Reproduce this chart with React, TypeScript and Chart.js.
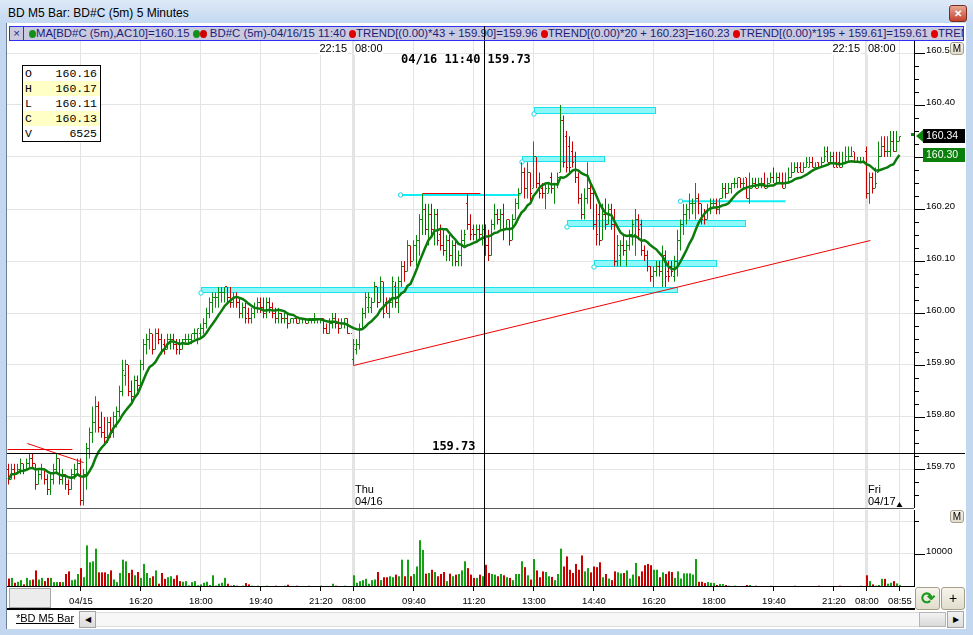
import { useEffect, useRef } from "react";
import { Chart, registerables } from "chart.js";

Chart.register(...registerables);
Chart.defaults.font.family = '"Liberation Sans", Arial, sans-serif';

// quotes are kept in hundredths above 159.00 (72 -> 159.72, 134 -> 160.34)
const BASE = 159;

// 5-minute bars: 04/15 12:40-22:10, 04/16 08:00-22:10, 04/17 08:00-08:55
const opens = [
  70, 68, 70, 69, 70, 71, 70, 71, 72, 71,
  67, 69, 70, 68, 66, 68, 70, 72, 68, 69,
  67, 66, 69, 70, 71, 64, 69, 74, 77, 79,
  82, 78, 77, 76, 79, 77, 80, 81, 85, 88,
  90, 85, 84, 87, 86, 90, 94, 95, 96, 93,
  96, 95, 94, 93, 95, 95, 94, 94, 93, 95,
  95, 95, 96, 96, 96, 97, 98, 100, 102, 103,
  103, 104, 104, 105, 103, 102, 103, 102, 100, 101,
  100, 99, 100, 101, 102, 101, 100, 102, 101, 100,
  99, 100, 99, 99, 98, 99, 99, 98, 99, 99,
  98, 99, 99, 99, 99, 99, 97, 96, 98, 99,
  98, 97, 98, 99, 96,
  // 04/16
  91, 93, 94, 97, 100, 101, 101, 102, 105, 102,
  106, 102, 100, 102, 105, 102, 106, 109, 108, 113,
  110, 113, 114, 118, 120, 116, 119, 116, 119, 115,
  113, 112, 114, 111, 113, 110, 111, 114, 121, 117,
  116, 115, 116, 115, 116, 113, 111, 117, 119, 118,
  119, 116, 118, 114, 118, 121, 123, 127, 124, 127,
  124, 130, 125, 124, 123, 123, 126, 124, 125, 127,
  137, 134, 132, 131, 130, 126, 122, 119, 122, 124,
  123, 117, 119, 114, 119, 117, 120, 117, 110, 111,
  113, 112, 113, 115, 115, 118, 117, 112, 111, 109,
  107, 108, 109, 108, 111, 108, 109, 107, 110, 114,
  117, 119, 120, 121, 121, 122, 121, 119, 118, 120,
  121, 121, 120, 122, 124, 123, 124, 125, 125, 126,
  125, 126, 122, 124, 125, 124, 125, 125, 124, 125,
  126, 125, 126, 125, 124, 125, 126, 127, 128, 128,
  127, 128, 128, 129, 128, 129, 128, 129, 131, 129,
  130, 129, 129, 128, 129, 129, 130, 131, 129, 129, 129,
  // 04/17
  131, 123, 126, 124, 127, 130, 132, 131, 131, 133, 131, 133,
];
const highs = [
  71, 71, 71, 71, 72, 71, 72, 73, 73, 71,
  70, 71, 70, 69, 69, 71, 73, 72, 70, 69,
  68, 70, 71, 72, 72, 70, 75, 78, 82, 84,
  83, 81, 80, 80, 80, 81, 82, 86, 91, 91,
  90, 87, 88, 88, 91, 95, 96, 97, 96, 97,
  97, 96, 95, 96, 96, 96, 95, 95, 95, 96,
  96, 96, 97, 97, 98, 99, 101, 103, 104, 104,
  105, 105, 105, 105, 105, 104, 104, 103, 102, 102,
  101, 101, 102, 103, 103, 103, 103, 103, 102, 101,
  101, 100, 100, 100, 99, 99, 99, 99, 99, 99,
  99, 99, 100, 99, 99, 99, 98, 99, 100, 100,
  99, 99, 99, 99, 96,
  // 04/16
  95, 95, 98, 101, 104, 104, 103, 106, 105, 107,
  106, 103, 103, 107, 106, 107, 110, 110, 114, 113,
  114, 115, 119, 123, 121, 121, 121, 120, 120, 117,
  116, 115, 115, 114, 114, 112, 116, 116, 123, 119,
  117, 117, 117, 117, 117, 116, 118, 121, 120, 120,
  121, 118, 118, 119, 122, 124, 129, 128, 129, 127,
  133, 130, 127, 125, 125, 125, 127, 125, 127, 140,
  138, 135, 134, 133, 131, 127, 123, 124, 129, 125,
  124, 121, 121, 121, 122, 121, 121, 120, 115, 114,
  115, 114, 116, 118, 120, 119, 118, 113, 112, 109,
  109, 110, 110, 113, 112, 110, 110, 111, 116, 118,
  121, 121, 123, 122, 125, 123, 121, 120, 121, 122,
  122, 122, 122, 125, 125, 125, 125, 126, 126, 126,
  126, 126, 127, 126, 126, 126, 126, 127, 126, 127,
  128, 127, 127, 127, 127, 128, 129, 129, 129, 129,
  129, 130, 130, 130, 129, 129, 130, 132, 132, 131,
  131, 131, 131, 131, 132, 132, 132, 131, 130, 130, 130,
  // 04/17
  132, 127, 127, 128, 133, 134, 134, 134, 135, 135, 135, 134,
];
const lows = [
  67, 68, 68, 69, 69, 69, 70, 70, 70, 66,
  67, 68, 67, 65, 65, 67, 69, 67, 67, 66,
  65, 66, 68, 69, 63, 63, 66, 72, 75, 77,
  77, 76, 75, 75, 76, 76, 78, 80, 84, 86,
  84, 83, 84, 85, 86, 89, 92, 93, 92, 93,
  94, 92, 92, 93, 93, 93, 92, 92, 93, 94,
  94, 94, 95, 94, 95, 96, 97, 99, 100, 101,
  101, 102, 102, 102, 101, 101, 101, 99, 99, 98,
  98, 98, 99, 100, 100, 99, 99, 100, 99, 98,
  98, 98, 98, 97, 98, 98, 98, 98, 98, 98,
  98, 98, 98, 98, 98, 96, 96, 96, 97, 97,
  96, 97, 97, 96, 96,
  // 04/16
  90, 92, 93, 97, 99, 100, 100, 102, 101, 102,
  99, 100, 99, 101, 101, 100, 105, 106, 108, 109,
  110, 109, 111, 115, 115, 113, 115, 113, 113, 112,
  111, 110, 110, 109, 109, 109, 109, 113, 116, 114,
  114, 114, 114, 113, 111, 110, 111, 116, 117, 116,
  114, 116, 113, 114, 118, 120, 123, 122, 122, 121,
  124, 124, 122, 122, 120, 123, 123, 121, 124, 127,
  128, 127, 127, 128, 125, 121, 118, 118, 121, 120,
  116, 113, 113, 114, 116, 117, 116, 109, 109, 109,
  111, 109, 112, 113, 111, 114, 111, 110, 108, 106,
  105, 107, 107, 105, 105, 106, 107, 106, 107, 112,
  115, 117, 118, 119, 118, 119, 117, 117, 118, 119,
  120, 119, 119, 122, 122, 123, 123, 124, 124, 124,
  124, 122, 121, 124, 124, 124, 124, 124, 124, 125,
  125, 125, 125, 124, 124, 125, 126, 127, 127, 127,
  127, 128, 128, 128, 128, 128, 128, 129, 129, 129,
  128, 128, 128, 128, 129, 129, 130, 129, 129, 129, 129,
  // 04/17
  122, 121, 123, 124, 127, 130, 130, 130, 130, 131, 131, 133,
];
const closes = [
  68, 70, 69, 70, 71, 70, 71, 72, 71, 67,
  69, 70, 68, 66, 68, 70, 72, 68, 69, 67,
  66, 69, 70, 71, 64, 69, 74, 77, 79, 82,
  78, 77, 76, 79, 77, 80, 81, 85, 89, 90,
  85, 84, 87, 86, 90, 94, 95, 96, 93, 96,
  95, 93, 93, 95, 95, 94, 93, 93, 95, 95,
  95, 96, 96, 97, 97, 98, 100, 102, 103, 103,
  104, 104, 105, 103, 102, 103, 102, 100, 101, 99,
  99, 100, 101, 102, 101, 100, 102, 101, 100, 99,
  100, 99, 99, 98, 99, 99, 98, 99, 99, 98,
  99, 99, 99, 99, 99, 97, 96, 98, 99, 98,
  97, 98, 99, 96, 96,
  // 04/16
  94, 94, 97, 100, 103, 103, 102, 105, 102, 106,
  100, 100, 102, 106, 102, 106, 109, 108, 113, 110,
  113, 114, 118, 120, 116, 119, 116, 119, 114, 113,
  112, 114, 111, 113, 110, 111, 114, 115, 117, 115,
  115, 116, 115, 116, 113, 111, 117, 119, 118, 119,
  116, 118, 114, 118, 121, 123, 127, 124, 127, 123,
  130, 125, 123, 123, 124, 124, 124, 125, 126, 137,
  129, 128, 128, 129, 126, 122, 119, 122, 124, 123,
  117, 115, 114, 119, 117, 120, 117, 110, 113, 113,
  112, 113, 115, 117, 118, 116, 112, 111, 109, 107,
  108, 109, 108, 111, 107, 107, 108, 110, 114, 117,
  119, 120, 121, 121, 122, 121, 118, 118, 120, 121,
  121, 120, 122, 124, 123, 124, 125, 125, 126, 125,
  125, 122, 124, 125, 124, 125, 125, 124, 125, 126,
  125, 126, 125, 124, 125, 126, 127, 128, 127, 127,
  128, 129, 129, 128, 128, 128, 129, 130, 129, 130,
  128, 128, 128, 129, 130, 130, 130, 129, 129, 129, 129,
  // 04/17
  123, 126, 124, 125, 130, 132, 131, 131, 133, 131, 133, 134,
];
const volumes = [
  2300, 2500, 1000, 1300, 1800, 500, 2500, 1800, 2000, 4800,
  2000, 2500, 1500, 2500, 2500, 1200, 1200, 1200, 1200, 3700,
  4500, 1800, 2000, 3700, 5500, 2700, 12500, 7300, 7600, 11500,
  4200, 4200, 4200, 3700, 4800, 2000, 1200, 4000, 8100, 7600,
  4000, 5000, 3300, 4300, 2500, 6800, 4000, 2500, 3000, 4800,
  700, 4000, 2200, 2700, 3000, 2200, 3300, 1500, 1300, 1500,
  200, 1200, 1500, 200, 500, 1000, 1300, 300, 3300, 100,
  700, 1000, 2500, 700, 100, 300, 100, 0, 100, 900,
  500, 100, 0, 100, 0, 0, 100, 0, 0, 100,
  0, 0, 100, 400, 0, 0, 100, 0, 0, 0,
  100, 0, 0, 0, 100, 0, 0, 0, 700, 100,
  0, 0, 100, 0, 0,
  // 04/16
  3300, 1000, 1500, 1800, 2200, 700, 1800, 2000, 4300, 1800,
  2700, 2700, 3000, 2700, 3500, 3000, 8100, 3000, 8100, 3000,
  3700, 6000, 14100, 11100, 3800, 4000, 5000, 4300, 3000, 3700,
  4300, 1500, 3800, 3000, 3500, 3700, 4800, 7600, 5500, 3500,
  2500, 2500, 3500, 3000, 6525, 4000, 3700, 3500, 3000, 3700,
  3300, 2700, 2500, 1800, 3700, 3700, 7600, 5800, 3300, 2000,
  8300, 4800, 2700, 4500, 4300, 3000, 2800, 1800, 3700, 11500,
  6000, 9100, 5000, 4000, 6800, 5000, 9400, 4500, 5500, 4200,
  6000, 5800, 7300, 2700, 3700, 2300, 1800, 4500, 4200, 3900,
  4000, 4800, 2300, 3500, 7100, 3000, 4500, 6400, 6800, 6400,
  5000, 5000, 2700, 4200, 3700, 4500, 4300, 2500, 4500, 2300,
  3900, 3900, 3900, 3500, 8300, 1300, 1300, 900, 1200, 1000,
  900, 300, 600, 600, 300, 100, 0, 100, 0, 0,
  0, 300, 300, 0, 100, 0, 0, 0, 0, 100,
  0, 0, 0, 0, 0, 0, 0, 100, 0, 0,
  0, 0, 0, 0, 0, 100, 0, 0, 0, 0,
  0, 0, 100, 0, 0, 0, 0, 0, 0, 100, 0,
  // 04/17
  3300, 1500, 500, 100, 300, 2200, 2200, 700, 1000, 1500, 800, 300,
];

// time axis (bar numbers) and its labels
const tickBars = [24, 44, 64, 84, 104, 115, 135, 155, 175, 195, 215, 235, 255, 275, 286, 297];
const tickLabels = ["04/15", "16:20", "18:00", "19:40", "21:20", "08:00", "09:40", "11:20", "13:00", "14:40", "16:20", "18:00", "19:40", "21:20", "08:00", "08:55"];
const sessionBars = [115, 286];
const sessionClose = "22:15";
const sessionOpen = "08:00";
const dayNames = ["Thu", "Fri"];
const dayDates = ["04/16", "04/17"];

const priceTicks = [159.7, 159.8, 159.9, 160.0, 160.1, 160.2, 160.3, 160.4, 160.5];
const volumeTicks = [10000, 20000];
const volumeTickLabels = ["10000", ""];

// crosshair
const crossBar = 159;
const crossPrice = 159.73;
const crossStamp = "04/16 11:40";

// user drawings: zones [fromBar, toBar, top, bottom]
const zones = [
  [64, 223, 160.05, 160.038],
  [175, 215.7, 160.396, 160.382],
  [171, 198.7, 160.302, 160.29],
  [186, 245.7, 160.179, 160.166],
  [195, 236, 160.102, 160.089],
];
// lines [fromBar, fromPrice, toBar, toPrice]
const cyanLines = [
  [130.7, 160.227, 170.7, 160.227],
  [224, 160.215, 259, 160.215],
];
const redLines = [
  [115, 159.9, 287.3, 160.14],
  [138, 160.23, 157.3, 160.23],
  [-0.3, 159.739, 21.3, 159.739],
  [6.3, 159.75, 25, 159.713],
];

const UP = "#0a890a";
const DOWN = "#c40000";
const VOL_UP = "#13a013";
const VOL_DOWN = "#c80000";
const MA_COLOR = "#0b7c0b";
const GRID = "#e4e4e4";
const ZONE_FILL = "#8ef8f8";
const ZONE_EDGE = "#16e3ee";

const price = (v: number) => BASE + v / 100;
const isUp = (i: number) => closes[i] >= opens[i];
const movingAvg = closes.map((_, i) => {
  const w = closes.slice(Math.max(0, i - 9), i + 1);
  return price(w.reduce((s, v) => s + v, 0) / w.length);
});

function anchor(ctx: CanvasRenderingContext2D, x: number, y: number) {
  ctx.beginPath();
  ctx.arc(x, y, 2.2, 0, Math.PI * 2);
  ctx.fillStyle = "#fff";
  ctx.fill();
  ctx.strokeStyle = "#19d6e6";
  ctx.lineWidth = 1;
  ctx.stroke();
}

function drawAxisLabels(ctx: CanvasRenderingContext2D, scale: any, right: number, values: number[], labels: string[], minorStep: number) {
  ctx.strokeStyle = "#000";
  ctx.lineWidth = 1;
  if (minorStep > 0) {
    const a = Math.ceil(scale.min / minorStep - 1e-6);
    const b = Math.floor(scale.max / minorStep + 1e-6);
    for (let t = a; t <= b; t++) {
      const py = Math.round(scale.getPixelForValue(t * minorStep)) + 0.5;
      ctx.beginPath();
      ctx.moveTo(right, py);
      ctx.lineTo(right + 5, py);
      ctx.stroke();
    }
  }
  ctx.font = '9.5px "Liberation Sans"';
  ctx.fillStyle = "#000";
  ctx.textAlign = "left";
  ctx.textBaseline = "alphabetic";
  values.forEach((v, k) => {
    const py = Math.round(scale.getPixelForValue(v)) + 0.5;
    ctx.beginPath();
    ctx.moveTo(right, py);
    ctx.lineTo(right + (labels[k] ? 11 : 5), py);
    ctx.stroke();
    if (labels[k]) ctx.fillText(labels[k], right + 12, py - 1);
  });
}

const pricePlugin = {
  id: "priceDecor",
  beforeDatasetsDraw(chart: any) {
    const { ctx } = chart;
    const x = chart.scales.x;
    const y = chart.scales.y;
    ctx.save();
    for (const [a, b, top, bottom] of zones) {
      const x1 = Math.round(x.getPixelForValue(a));
      const x2 = Math.round(x.getPixelForValue(b));
      const y1 = Math.round(y.getPixelForValue(top));
      const y2 = Math.round(y.getPixelForValue(bottom));
      ctx.fillStyle = ZONE_FILL;
      ctx.fillRect(x1, y1, x2 - x1, y2 - y1);
      ctx.strokeStyle = ZONE_EDGE;
      ctx.lineWidth = 1;
      ctx.strokeRect(x1 + 0.5, y1 + 0.5, x2 - x1 - 1, y2 - y1 - 1);
      anchor(ctx, x1, y2);
    }
    for (const [a, p1, b, p2] of cyanLines) {
      const x1 = x.getPixelForValue(a);
      ctx.strokeStyle = "#10eef5";
      ctx.lineWidth = 2;
      ctx.beginPath();
      ctx.moveTo(x1, y.getPixelForValue(p1));
      ctx.lineTo(x.getPixelForValue(b), y.getPixelForValue(p2));
      ctx.stroke();
      anchor(ctx, x1, y.getPixelForValue(p1));
    }
    ctx.strokeStyle = "#ee0000";
    ctx.lineWidth = 1;
    for (const [a, p1, b, p2] of redLines) {
      ctx.beginPath();
      ctx.moveTo(x.getPixelForValue(a), Math.round(y.getPixelForValue(p1)) + 0.5);
      ctx.lineTo(x.getPixelForValue(b), Math.round(y.getPixelForValue(p2)) + 0.5);
      ctx.stroke();
    }
    ctx.restore();
  },
  afterDatasetDraw(chart: any, args: any) {
    if (chart.data.datasets[args.index].type !== "bar") return;
    const { ctx } = chart;
    const x = chart.scales.x;
    const y = chart.scales.y;
    ctx.save();
    for (let i = 0; i < closes.length; i++) {
      const cx = Math.floor(x.getPixelForValue(i));
      ctx.fillStyle = isUp(i) ? UP : DOWN;
      ctx.fillRect(cx - 1, Math.floor(y.getPixelForValue(price(opens[i]))), 1, 1);
      ctx.fillRect(cx + 1, Math.floor(y.getPixelForValue(price(closes[i]))), 1, 1);
    }
    ctx.restore();
  },
  afterDraw(chart: any) {
    const { ctx, chartArea: area } = chart;
    const x = chart.scales.x;
    const y = chart.scales.y;
    ctx.save();

    // session break labels
    ctx.font = '11px "Liberation Sans"';
    ctx.textBaseline = "middle";
    sessionBars.forEach((s, k) => {
      const bx = Math.round(x.getPixelForValue(s - 0.5));
      const boxed = (t: string, tx: number, align: "left" | "right") => {
        const w = ctx.measureText(t).width;
        const left = align === "right" ? tx - w : tx;
        ctx.fillStyle = "#fff";
        ctx.fillRect(left - 1, 2, w + 2, 13);
        ctx.fillStyle = "#000";
        ctx.textAlign = align;
        ctx.fillText(t, tx, 9);
      };
      boxed(sessionClose, bx - 5, "right");
      boxed(sessionOpen, bx + 3, "left");
      ctx.textAlign = "left";
      ctx.fillStyle = "#000";
      ctx.fillText(dayNames[k], bx + 3, area.bottom - 18);
      ctx.fillText(dayDates[k], bx + 3, area.bottom - 6);
    });

    // last bar marker
    const lx = Math.floor(x.getPixelForValue(closes.length - 1)) + 0.5;
    ctx.fillStyle = "#000";
    ctx.beginPath();
    ctx.moveTo(lx - 3, area.bottom - 1);
    ctx.lineTo(lx + 3, area.bottom - 1);
    ctx.lineTo(lx, area.bottom - 6);
    ctx.closePath();
    ctx.fill();

    // crosshair
    const cx = Math.floor(x.getPixelForValue(crossBar)) - 0.5;
    const cy = Math.round(y.getPixelForValue(crossPrice)) + 0.5;
    ctx.strokeStyle = "#000";
    ctx.lineWidth = 1;
    ctx.beginPath();
    ctx.moveTo(cx, 0);
    ctx.lineTo(cx, area.bottom);
    ctx.moveTo(area.left, cy);
    ctx.lineTo(chart.width, cy);
    ctx.stroke();
    ctx.font = 'bold 12px "DejaVu Sans Mono"';
    ctx.textBaseline = "middle";
    ctx.textAlign = "right";
    ctx.fillText(crossStamp, cx - 4, 20);
    ctx.textAlign = "left";
    ctx.fillText(crossPrice.toFixed(2), cx + 3, 20);
    ctx.textAlign = "right";
    ctx.textBaseline = "alphabetic";
    ctx.fillText(crossPrice.toFixed(2), cx - 9, cy - 4);

    // price axis
    drawAxisLabels(ctx, y, area.right, priceTicks, priceTicks.map((v) => v.toFixed(2)), 0.025);

    // last price and MA badges
    const last = closes.length - 1;
    const badge = (p: number, bg: string) => {
      const py = Math.round(y.getPixelForValue(p));
      ctx.fillStyle = bg;
      ctx.fillRect(area.right + 9, py - 7, 42, 14);
      ctx.fillStyle = "#fff";
      ctx.font = '10.5px "Liberation Sans"';
      ctx.textAlign = "left";
      ctx.textBaseline = "middle";
      ctx.fillText(p.toFixed(2), area.right + 12, py + 0.5);
      return py;
    };
    const pyLast = badge(price(closes[last]), "#000");
    ctx.fillStyle = UP;
    ctx.beginPath();
    ctx.moveTo(area.right + 2, pyLast);
    ctx.lineTo(area.right + 9, pyLast - 6);
    ctx.lineTo(area.right + 9, pyLast + 6);
    ctx.closePath();
    ctx.fill();
    ctx.fillRect(area.right - 3, pyLast - 3, 3, 3);
    badge(movingAvg[last], "#0a800a");
    ctx.restore();
  },
};

const volumePlugin = {
  id: "volumeDecor",
  afterDraw(chart: any) {
    const { ctx, chartArea: area } = chart;
    const x = chart.scales.x;
    const y = chart.scales.y;
    ctx.save();
    ctx.fillStyle = "#5a5a5a";
    ctx.fillRect(0, 0, area.right, 1);
    ctx.fillStyle = "#000";
    ctx.fillRect(0, chart.height - 2, area.right + 1, 2);
    const cx = Math.floor(x.getPixelForValue(crossBar) - 0.5) - 0.5;
    ctx.strokeStyle = "#000";
    ctx.lineWidth = 1;
    ctx.beginPath();
    ctx.moveTo(cx, 0);
    ctx.lineTo(cx, area.bottom);
    ctx.stroke();
    drawAxisLabels(ctx, y, area.right, volumeTicks, volumeTickLabels, 0);
    ctx.restore();
  },
};

const gridWidth = (c: any) => (sessionBars.includes(c.tick?.value) ? 3 : 1);

function PriceChart() {
  const canvasRef = useRef<HTMLCanvasElement>(null);
  useEffect(() => {
    if (!canvasRef.current) return;
    const chart = new Chart(canvasRef.current, {
      type: "bar",
      data: {
        datasets: [
          {
            type: "line",
            data: movingAvg.map((v, i) => ({ x: i, y: v })),
            borderColor: MA_COLOR,
            borderWidth: 2.5,
            pointRadius: 0,
            tension: 0,
            order: 0,
          },
          {
            type: "bar",
            data: closes.map((_, i) => ({ x: i, y: [price(lows[i]), price(highs[i])] })),
            backgroundColor: closes.map((_, i) => (isUp(i) ? UP : DOWN)),
            barThickness: 1,
            borderWidth: 0,
            inflateAmount: 0,
            order: 1,
          },
        ],
      } as any,
      options: {
        animation: false,
        responsive: false,
        events: [],
        layout: { padding: 0 },
        plugins: { legend: { display: false }, tooltip: { enabled: false } },
        scales: {
          x: {
            type: "linear",
            offset: false,
            min: -0.5,
            max: 301.8333,
            afterBuildTicks: (s: any) => {
              s.ticks = tickBars.map((v) => ({ value: v }));
            },
            afterFit: (s: any) => {
              s.height = 0;
            },
            ticks: { display: false },
            grid: { offset: false, color: GRID, lineWidth: gridWidth, drawTicks: false },
            border: { display: false },
          },
          y: {
            type: "linear",
            position: "right",
            min: 159.625,
            max: 160.525,
            afterBuildTicks: (s: any) => {
              s.ticks = priceTicks.map((v) => ({ value: v }));
            },
            afterFit: (s: any) => {
              s.width = 51;
            },
            ticks: { display: false },
            grid: { color: GRID, drawTicks: false },
            border: { color: "#000" },
          },
        },
      } as any,
      plugins: [pricePlugin],
    });
    return () => chart.destroy();
  }, []);
  return <canvas ref={canvasRef} width={958} height={468} style={{ position: "absolute", left: 7, top: 40 }} />;
}

function VolumeChart() {
  const canvasRef = useRef<HTMLCanvasElement>(null);
  useEffect(() => {
    if (!canvasRef.current) return;
    const chart = new Chart(canvasRef.current, {
      type: "bar",
      data: {
        datasets: [
          {
            data: volumes.map((v, i) => ({ x: i, y: v })),
            backgroundColor: volumes.map((_, i) => (isUp(i) ? VOL_UP : VOL_DOWN)),
            barThickness: 2,
            borderWidth: 0,
            inflateAmount: 0,
          },
        ],
      } as any,
      options: {
        animation: false,
        responsive: false,
        events: [],
        layout: { padding: { top: 2, left: 0, right: 0, bottom: 0 } },
        plugins: { legend: { display: false }, tooltip: { enabled: false } },
        scales: {
          x: {
            type: "linear",
            offset: false,
            min: -2 / 3,
            max: 301.6667,
            afterBuildTicks: (s: any) => {
              s.ticks = tickBars.map((v) => ({ value: v }));
            },
            afterFit: (s: any) => {
              s.height = 24;
            },
            ticks: {
              autoSkip: false,
              maxRotation: 0,
              minRotation: 0,
              padding: 5,
              color: "#000",
              font: { size: 9.5 },
              callback: (v: number) => tickLabels[tickBars.indexOf(v)] ?? "",
            },
            grid: { offset: false, color: GRID, lineWidth: gridWidth, tickColor: "#000", tickLength: 5, tickWidth: 1 },
            border: { color: "#000" },
          },
          y: {
            type: "linear",
            position: "right",
            min: 0,
            max: 23400,
            afterBuildTicks: (s: any) => {
              s.ticks = volumeTicks.map((v) => ({ value: v }));
            },
            afterFit: (s: any) => {
              s.width = 51;
            },
            ticks: { display: false },
            grid: { color: GRID, drawTicks: false },
            border: { color: "#000" },
          },
        },
      } as any,
      plugins: [volumePlugin],
    });
    return () => chart.destroy();
  }, []);
  return <canvas ref={canvasRef} width={958} height={102} style={{ position: "absolute", left: 7, top: 508 }} />;
}

const abs = (l: number, t: number, w: number, h: number, extra: any = {}) => ({
  position: "absolute" as const,
  left: l,
  top: t,
  width: w,
  height: h,
  boxSizing: "border-box" as const,
  ...extra,
});

function Dot({ c }: { c: string }) {
  return <span style={{ display: "inline-block", width: 7, height: 8, borderRadius: "50%", background: c, verticalAlign: "-1px" }} />;
}

export default function App() {
  const fmt = (v: number) => price(v).toFixed(2);
  const ohlc: [string, string, boolean][] = [
    ["O", fmt(opens[crossBar]), false],
    ["H", fmt(highs[crossBar]), true],
    ["L", fmt(lows[crossBar]), false],
    ["C", fmt(closes[crossBar]), true],
    ["V", String(volumes[crossBar]), false],
  ];
  const button = { border: "1px solid #a59f87", borderRadius: 3, background: "linear-gradient(#f6f4ec,#e1ddcd)" };
  return (
    <div style={{ position: "fixed", left: 0, top: 0, width: 973, height: 635, overflow: "hidden", background: "#c3d8f0", fontFamily: '"Liberation Sans", Arial, sans-serif', color: "#000" }}>
      <div style={abs(0, 0, 973, 23, { background: "linear-gradient(#dde9f7,#c4d9f1)" })} />
      <div style={abs(8, 5, 400, 16, { fontSize: 12, lineHeight: "16px" })}>BD M5 Bar: BD#C (5m) 5 Minutes</div>
      <div style={abs(949, 5, 18, 17, { background: "linear-gradient(#e9a796,#c4432e)", border: "1px solid #7c2a1c", borderRadius: 3, color: "#fff", fontSize: 10, fontWeight: "bold", textAlign: "center", lineHeight: "15px" })}>✕</div>

      <div style={abs(6, 23, 960, 606, { background: "#fff", borderLeft: "1px solid #6d7e95" })} />

      <PriceChart />
      <VolumeChart />

      <div style={abs(9, 26, 955, 15, { border: "1px solid #2f2ff2", background: "#c9cadf", color: "#1d1d78", fontSize: 11.4, lineHeight: "13px", whiteSpace: "nowrap", overflow: "hidden" })}>
        <span style={{ display: "inline-block", width: 13, textAlign: "center", borderRight: "1px solid #2f2ff2", marginRight: 5 }}>×</span>
        <Dot c="#12901a" />MA[BD#C (5m),AC10]={movingAvg[crossBar].toFixed(2)}{" "}
        <Dot c="#12901a" /><Dot c="#d00000" /> BD#C (5m)-04/16/15 11:40{" "}
        <Dot c="#e00000" />TREND[(0.00)*43 + 159.90]=159.96{" "}
        <Dot c="#e00000" />TREND[(0.00)*20 + 160.23]=160.23{" "}
        <Dot c="#e00000" />TREND[(0.00)*195 + 159.61]=159.61{" "}
        <Dot c="#e00000" />TREND
      </div>
      <div style={abs(484, 26, 1, 14, { background: "#000" })} />

      <div style={abs(22, 65, 79, 77, { border: "1px solid #000", background: "#fff", fontFamily: '"Liberation Mono", monospace', fontSize: 11.5, lineHeight: "15px" })}>
        {ohlc.map(([k, v, hl]) => (
          <div key={k} style={{ display: "flex", justifyContent: "space-between", padding: "0 3px 0 2px", background: hl ? "#ffffc6" : "transparent" }}>
            <span>{k}</span>
            <span>{v}</span>
          </div>
        ))}
      </div>

      <div style={abs(950, 42, 14, 13, { ...button, fontSize: 10, textAlign: "center", lineHeight: "11px" })}>M</div>
      <div style={abs(950, 510, 14, 13, { ...button, fontSize: 10, textAlign: "center", lineHeight: "11px" })}>M</div>

      <div style={abs(9, 588, 42, 20, { border: "1px solid #a8a8a8", background: "#ececec" })} />
      <div style={abs(915, 587, 25, 23, { ...button, color: "#1c9a1c", fontSize: 17, fontWeight: "bold", textAlign: "center", lineHeight: "21px" })}>⟳</div>
      <div style={abs(941, 587, 24, 23, { ...button, fontSize: 14, textAlign: "center", lineHeight: "21px" })}>+</div>

      <div style={abs(16, 612, 60, 14, { fontSize: 11, lineHeight: "13px", textDecoration: "underline" })}>*BD M5 Bar</div>
      <div style={abs(79, 611, 17, 17, { border: "1px solid #a5a5a5", background: "linear-gradient(#f3f3f3,#dcdcdc)", fontSize: 8, textAlign: "center", lineHeight: "15px" })}>◀</div>
      <div style={abs(96, 612, 850, 15, { background: "#f7f7f7", borderTop: "1px solid #dcdcdc", borderBottom: "1px solid #dcdcdc" })} />
      <div style={abs(919, 612, 27, 15, { border: "1px solid #b5b5b5", background: "linear-gradient(#f2f2f2,#dadada)" })} />
      <div style={abs(947, 611, 17, 17, { border: "1px solid #a5a5a5", background: "linear-gradient(#f3f3f3,#dcdcdc)", fontSize: 8, textAlign: "center", lineHeight: "15px" })}>▶</div>
    </div>
  );
}
